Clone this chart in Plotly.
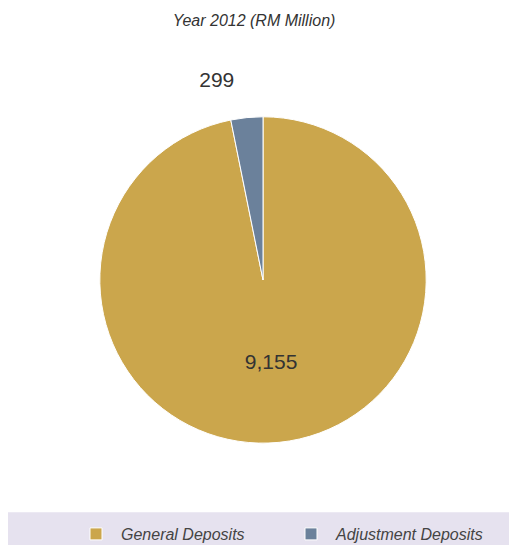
import plotly.graph_objects as go

categories = ["General Deposits", "Adjustment Deposits"]
values = [9155, 299]
slice_colors = ["#cba64c", "#6b819b"]

W, H = 501, 543

cx, cy, R = 255, 275, 165

fig = go.Figure(go.Pie(
    labels=categories,
    values=values,
    sort=False,
    direction="clockwise",
    rotation=0,
    marker=dict(colors=slice_colors, line=dict(color="white", width=1)),
    texttemplate=["%{value:,}", "%{value:,}<br> "],
    textposition=["inside", "outside"],
    textfont=dict(family="Liberation Sans, Arial, sans-serif", size=21, color="#333333"),
    insidetextorientation="horizontal",
    hoverinfo="label+value",
    domain=dict(x=[(cx - R) / W, (cx + R) / W],
                y=[1 - (cy + R) / H, 1 - (cy - R) / H]),
))

fig.update_layout(
    width=W, height=H,
    margin=dict(l=0, r=0, t=0, b=0),
    paper_bgcolor="white",
    plot_bgcolor="white",
    title=dict(text="Year 2012 (RM Million)", x=246 / W, xanchor="center", y=1 - 12 / H, yanchor="middle",
               font=dict(family="Liberation Sans, Arial, sans-serif", size=16, color="#333333", style="italic")),
    showlegend=True,
    legend=dict(orientation="h", x=63 / W, xanchor="left", y=1 - 532 / H, yanchor="middle",
                bgcolor="rgba(0,0,0,0)",
                font=dict(family="Liberation Sans, Arial, sans-serif", size=16, color="#444444", style="italic"),
                itemwidth=40, entrywidth=160, tracegroupgap=0),
    shapes=[dict(type="rect", xref="paper", yref="paper", x0=0, x1=1, y0=0, y1=1 - 510 / H,
                 fillcolor="#e6e2ef", line=dict(width=0), layer="below")],
)

fig.write_html("out.html")
